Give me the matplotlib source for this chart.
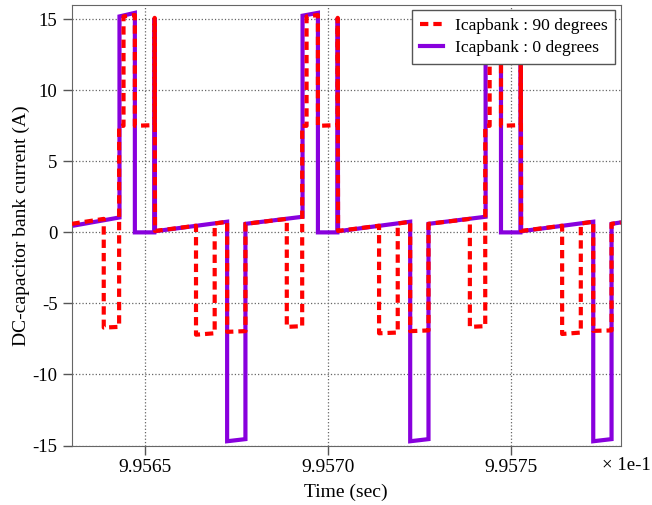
import numpy as np
import matplotlib.pyplot as plt

# time axis in displayed units (x 1e-1 s)
t_red = [9.95630, 9.956388, 9.956388, 9.956430, 9.956430, 9.956442, 9.956442, 9.956473, 9.956473,
         9.956527, 9.956527, 9.956528, 9.956640, 9.956640, 9.956691, 9.956691, 9.956725, 9.956725,
         9.956775, 9.956775,
         9.956888, 9.956888, 9.956930, 9.956930, 9.956942, 9.956942, 9.956973, 9.956973,
         9.957027, 9.957027, 9.957028, 9.957140, 9.957140, 9.957191, 9.957191, 9.957225, 9.957225,
         9.957275, 9.957275,
         9.957388, 9.957388, 9.957430, 9.957430, 9.957442, 9.957442, 9.957473, 9.957473,
         9.957527, 9.957527, 9.957528, 9.957640, 9.957640, 9.957691, 9.957691, 9.957725, 9.957725,
         9.957775, 9.957775, 9.95780]
i_red = [0.60, 0.95, -6.70, -6.65, 7.50, 7.50, 15.20, 15.30, 7.50,
         7.55, 15.10, 0.10, 0.47, -7.20, -7.10, 0.62, 0.75, -7.00,
         -6.95, 0.60,
         0.95, -6.65, -6.60, 7.50, 7.50, 15.20, 15.30, 7.50,
         7.55, 15.10, 0.10, 0.47, -7.10, -7.05, 0.62, 0.75, -6.95,
         -6.90, 0.60,
         0.95, -6.65, -6.60, 7.50, 7.50, 15.20, 15.30, 7.50,
         7.55, 15.10, 0.10, 0.47, -7.15, -7.05, 0.62, 0.75, -6.93,
         -6.90, 0.60, 0.70]

t_purple = [9.95630, 9.956431, 9.956431, 9.956473, 9.956473, 9.956526, 9.956527, 9.956528,
            9.956725, 9.956725, 9.956775, 9.956775,
            9.956931, 9.956931, 9.956973, 9.956973, 9.957026, 9.957027, 9.957028,
            9.957225, 9.957225, 9.957275, 9.957275,
            9.957431, 9.957431, 9.957473, 9.957473, 9.957526, 9.957527, 9.957528,
            9.957725, 9.957725, 9.957775, 9.957775, 9.95780]
i_purple = [0.45, 1.05, 15.20, 15.45, 0.00, 0.00, 15.10, 0.08,
            0.75, -14.70, -14.55, 0.60,
            1.10, 15.25, 15.45, 0.00, 0.00, 15.10, 0.08,
            0.75, -14.70, -14.55, 0.60,
            1.10, 15.25, 15.45, 0.00, 0.00, 15.10, 0.08,
            0.75, -14.70, -14.55, 0.60, 0.70]

x_ticks = [9.9565, 9.9570, 9.9575]
y_ticks = [-15, -10, -5, 0, 5, 10, 15]

plt.rcParams['font.family'] = ['Liberation Serif', 'DejaVu Serif']
plt.rcParams['font.size'] = 14

fig = plt.figure(figsize=(6.52, 5.05), dpi=100)
ax = fig.add_axes([0.1097, 0.1178, 0.8423, 0.8722])

ax.plot(t_purple, i_purple, color='#8800DD', lw=3.0, solid_joinstyle='miter',
        label='Icapbank : 0 degrees', zorder=2)
ax.plot(t_red, i_red, color='#FF0000', lw=3.0, ls=(0, (2.0, 1.2)),
        label='Icapbank : 90 degrees', zorder=3)

ax.set_xlim(9.9563, 9.9578)
ax.set_ylim(-15, 16)
ax.set_xticks(x_ticks)
ax.set_xticklabels(['%.4f' % v for v in x_ticks])
ax.set_yticks(y_ticks)
ax.set_yticklabels([str(v) for v in y_ticks], fontsize=13.5)
ax.tick_params(direction='out', length=6.5, width=1, color='#555555')
ax.grid(True, ls=':', color='#666666', lw=0.9)
for s in ax.spines.values():
    s.set_color('#666666')

ax.set_xlabel('Time (sec)', labelpad=5)
ax.set_ylabel('DC-capacitor bank current (A)', labelpad=2)
fig.text(0.961, 0.079, '\u00d7 1e-1', ha='center', va='center', fontsize=13.5)

h, l = ax.get_legend_handles_labels()
leg = ax.legend(h[::-1], l[::-1], loc='upper right', fontsize=12.6, fancybox=False,
                framealpha=1, edgecolor='#555555', handlelength=1.3, borderaxespad=0.3,
                borderpad=0.45, labelspacing=0.3, handletextpad=0.7)
leg.get_frame().set_linewidth(1)

fig.savefig('out.png', dpi=100)
